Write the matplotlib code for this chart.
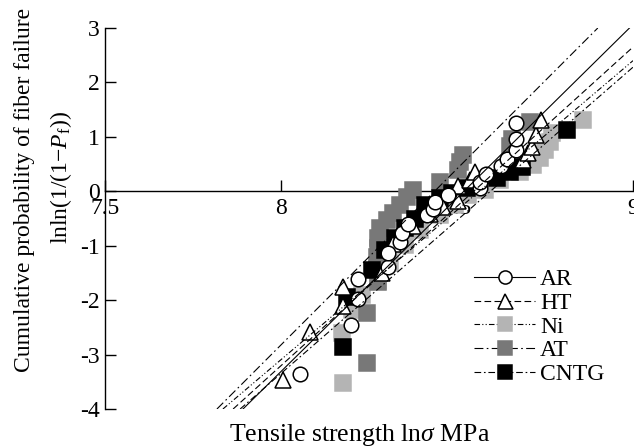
import numpy as np
import matplotlib
matplotlib.use('Agg')
import matplotlib.pyplot as plt

plt.rcParams['font.family'] = ['Liberation Serif', 'DejaVu Serif']
plt.rcParams['mathtext.fontset'] = 'custom'
plt.rcParams['mathtext.rm'] = 'Liberation Serif'
plt.rcParams['mathtext.it'] = 'Liberation Serif:italic'
plt.rcParams['axes.unicode_minus'] = False

# Weibull data: x = ln(sigma), y = lnln(1/(1-Pf))
ar_x = [8.054, 8.199, 8.219, 8.219, 8.304, 8.304, 8.338, 8.344, 8.361, 8.415, 8.432,
        8.438, 8.474, 8.565, 8.565, 8.582, 8.625, 8.642, 8.668, 8.668, 8.668]
ar_y = [-3.35, -2.46, -1.97, -1.62, -1.40, -1.14, -0.94, -0.77, -0.61, -0.44, -0.33,
        -0.20, -0.07, 0.06, 0.17, 0.31, 0.46, 0.59, 0.75, 0.96, 1.25]

ht_x = [8.006, 8.082, 8.176, 8.176, 8.287, 8.318, 8.375, 8.423, 8.460, 8.503, 8.503,
        8.537, 8.551, 8.688, 8.702, 8.713, 8.724, 8.739]
ht_y = [-3.47, -2.59, -2.10, -1.76, -1.51, -0.96, -0.64, -0.42, -0.29, -0.17, 0.09,
        0.20, 0.35, 0.57, 0.70, 0.81, 1.03, 1.31]

ni_x = [8.176, 8.173, 8.202, 8.230, 8.276, 8.310, 8.352, 8.395, 8.452, 8.494, 8.531,
        8.580, 8.622, 8.679, 8.716, 8.736, 8.750, 8.764, 8.770, 8.858]
ni_y = [-3.53, -2.61, -2.19, -1.91, -1.64, -1.31, -0.99, -0.72, -0.44, -0.26, -0.07,
        0.02, 0.20, 0.35, 0.48, 0.61, 0.75, 0.90, 1.07, 1.31]

at_x = [8.244, 8.244, 8.276, 8.273, 8.273, 8.276, 8.276, 8.281, 8.301, 8.318, 8.338,
        8.358, 8.375, 8.452, 8.503, 8.509, 8.517, 8.651, 8.656, 8.707]
at_y = [-3.16, -2.24, -1.67, -1.42, -1.21, -1.05, -0.86, -0.68, -0.53, -0.39, -0.26,
        -0.11, 0.02, 0.17, 0.39, 0.53, 0.66, 0.83, 0.96, 1.27]

cntg_x = [8.176, 8.188, 8.259, 8.295, 8.324, 8.352, 8.381, 8.409, 8.452, 8.486, 8.528,
          8.614, 8.651, 8.685, 8.813]
cntg_y = [-2.87, -1.95, -1.45, -1.08, -0.86, -0.68, -0.50, -0.26, -0.13, -0.04, 0.06,
          0.24, 0.35, 0.44, 1.12]

# fitted Weibull lines (end points)
ar_fit_x, ar_fit_y = [7.892, 8.99], [-4, 3]
ht_fit_x, ht_fit_y = [7.864, 9.0], [-4, 2.65]
ni_fit_x, ni_fit_y = [7.835, 9.0], [-4, 2.40]
at_fit_x, at_fit_y = [7.818, 8.90], [-4, 3]
cntg_fit_x, cntg_fit_y = [7.884, 9.0], [-4, 2.28]

fig = plt.figure(figsize=(6.34, 4.48), dpi=100)
ax = fig.add_axes([105/634, 39/448, 528/634, 381/448])

series = [
    ('AR', ar_x, ar_y, ar_fit_x, ar_fit_y, '-', 'o', 'white', 'black', 10.5, 6),
    ('HT', ht_x, ht_y, ht_fit_x, ht_fit_y, (0, (6, 3)), '^', 'white', 'black', 12, 5),
    ('Ni', ni_x, ni_y, ni_fit_x, ni_fit_y, (0, (5, 2, 1, 2, 1, 2)), 's', '#b4b4b4', '#b4b4b4', 11, 2),
    ('AT', at_x, at_y, at_fit_x, at_fit_y, (0, (8, 3, 1.5, 3)), 's', '#787878', '#787878', 11, 3),
    ('CNTG', cntg_x, cntg_y, cntg_fit_x, cntg_fit_y, (0, (6, 2.5, 1.5, 2.5)), 's', 'black', 'black', 11, 4),
]

handles = []
for name, x, y, fx, fy, ls, mk, fc, ec, ms, z in series:
    ax.plot(fx, fy, color='black', lw=0.8, ls=ls, zorder=7)
    ax.plot(x, y, ls='none', marker=mk, ms=ms, mfc=fc, mec=ec, mew=1.1, zorder=z)
    h, = ax.plot([], [], color='black', lw=0.8, ls=ls, marker=mk, ms=ms * 0.9,
                 mfc=fc, mec=ec, mew=1.1)
    handles.append(h)
    h.set_label(name)

ax.set_xlim(7.5, 9)
ax.set_ylim(-4, 3)
ax.set_xticks([7.5, 8, 8.5, 9])
ax.set_xticklabels(['7.5', '8', '8.5', '9'])
ax.set_yticks(range(-4, 4))

ax.spines['top'].set_visible(False)
ax.spines['right'].set_visible(False)
ax.spines['bottom'].set_position(('data', 0))
for s in ax.spines.values():
    s.set_linewidth(1.0)
    s.set_zorder(1)
ax.tick_params(direction='in', length=8, width=1.0, labelsize=17, pad=4)
ax.tick_params(axis='x', pad=5)

leg = ax.legend(handles=handles, loc='lower right', bbox_to_anchor=(0.968, 0.032),
                frameon=False, fontsize=17, handlelength=2.6, handletextpad=0.2,
                labelspacing=0.09, borderpad=0)

fig.text(25/634, 1 - 190/448, 'Cumulative probability of fiber failure', rotation=90,
         ha='center', va='center', fontsize=17)
fig.text(61/634, 1 - 177/448, r'lnln(1/(1$-$$\mathit{P}_{\mathrm{f}}$))', rotation=90,
         ha='center', va='center', fontsize=17)
fig.text(360/634, 1 - 435/448, r'Tensile strength ln$\mathit{\sigma}$ MPa',
         ha='center', va='center', fontsize=18.5)

fig.savefig('out.png', dpi=100)
